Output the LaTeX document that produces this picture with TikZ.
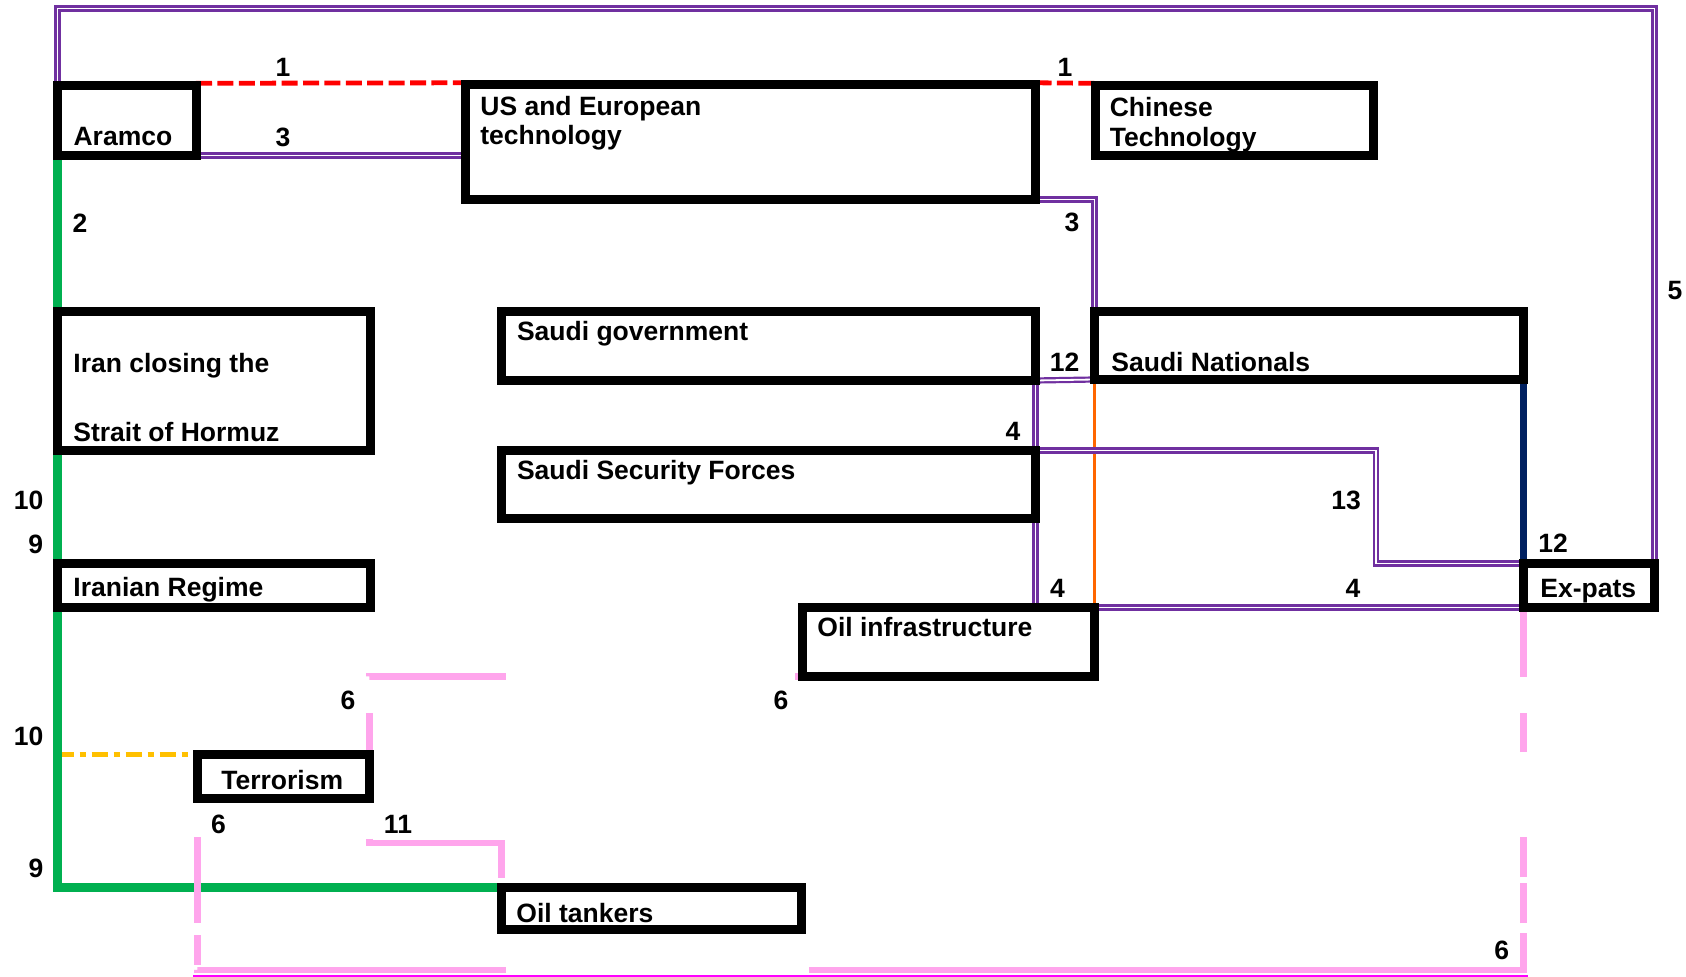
\documentclass[tikz,border=0pt]{standalone}
\usepackage{fontspec}
\setmainfont{Liberation Sans}
\usetikzlibrary{fit,backgrounds,calc}
\definecolor{gpurple}{HTML}{7030A0}
\definecolor{ggreen}{HTML}{00B050}
\definecolor{gnavy}{HTML}{002060}
\definecolor{gorange}{HTML}{FF6600}
\definecolor{gyellow}{HTML}{FFC000}
\definecolor{gred}{HTML}{FF0000}
\definecolor{gpink}{RGB}{255,165,236}
\definecolor{gmagenta}{HTML}{FF00FF}
\begin{document}
\begin{tikzpicture}[x=0.5pt,y=-0.5pt,
  box/.style={draw=black, line width=4.5pt, fill=white, inner sep=0pt, outer sep=0pt},
  txt/.style={anchor=base west, inner sep=0pt, font=\fontsize{13.25pt}{15pt}\selectfont\bfseries},
  num/.style={inner sep=0pt, font=\fontsize{13.25pt}{15pt}\selectfont\bfseries},
  pdouble/.style={draw=gpurple, line width=1.1pt, double=white, double distance=0.9pt},
  greenline/.style={draw=ggreen, line width=4.5pt},
  redline/.style={draw=gred, line width=2.4pt, dash pattern=on 8pt off 2.7pt},
  yellowline/.style={draw=gyellow, line width=2.8pt, dash pattern=on 8pt off 3pt on 3pt off 3pt},
  navyline/.style={draw=gnavy, line width=3.8pt},
  orangeline/.style={draw=gorange, line width=1.6pt},
  pinkline/.style={draw=gpink, line width=3.2pt}
]
\useasboundingbox (0,0) rectangle (1686,977);

% boxes
\node[box, fit={(57.5,85.5) (196,155.5)}] (Aramco) {};
\node[box, fit={(465.5,85) (1035.5,199.5)}] (US) {};
\node[box, fit={(1095,85.5) (1373.5,155.5)}] (CT) {};
\node[box, fit={(57.5,311.5) (370.5,450.5)}] (Iran) {};
\node[box, fit={(501.5,311.5) (1035.5,380.5)}] (SG) {};
\node[box, fit={(1094.5,311.5) (1523.5,379.5)}] (SN) {};
\node[box, fit={(501.5,450.5) (1035.5,518.5)}] (SSF) {};
\node[box, fit={(57.5,563.5) (370.5,607.5)}] (IR) {};
\node[box, fit={(1523.5,563.5) (1654.5,607.5)}] (Ex) {};
\node[box, fit={(802.5,607.5) (1094.5,676.5)}] (OI) {};
\node[box, fit={(197.5,754.5) (369.5,798.5)}] (T) {};
\node[box, fit={(501.5,887.5) (801,929.5)}] (OT) {};

% box texts
\node[txt] (tAramco) at (73.2,146) {Aramco};
\node[txt] (tUSa) at (480,115.8) {US and European};
\node[txt] (tUSb) at (480,144.8) {technology};
\node[txt] (tCTa) at (1109.4,116.5) {Chinese};
\node[txt] (tCTb) at (1109.4,146.5) {Technology};
\node[txt] (tIrana) at (73,372.7) {Iran closing the};
\node[txt] (tIranb) at (73,441.3) {Strait of Hormuz};
\node[txt] (tIR) at (73,597) {Iranian Regime};
\node[txt] (tSG) at (516.6,341) {Saudi government};
\node[txt] (tSSF) at (516.6,479.3) {Saudi Security Forces};
\node[txt] (tSN) at (1111,372) {Saudi Nationals};
\node[txt] (tEx) at (1540,598) {Ex-pats};
\node[txt] (tOI) at (817,637) {Oil infrastructure};
\node[txt] (tT) at (221,790) {Terrorism};
\node[txt] (tOT) at (516,922) {Oil tankers};

% number labels
\node[num] (na) at (283,67) {1};
\node[num] (nb) at (283,137) {3};
\node[num] (nc) at (1065,67) {1};
\node[num] (nd) at (80,223) {2};
\node[num] (ne) at (1072,222) {3};
\node[num] (nf) at (1675,291) {5};
\node[num] (ng) at (1064.7,362) {12};
\node[num] (nh) at (1013,431) {4};
\node[num] (ni) at (1346,500) {13};
\node[num] (nj) at (1553,543) {12};
\node[num] (nk) at (1057.5,588) {4};
\node[num] (nl) at (1353,588) {4};
\node[num] (nm) at (28.6,500.5) {10};
\node[num] (nn) at (35.7,544) {9};
\node[num] (no) at (348,700.5) {6};
\node[num] (np) at (781,700) {6};
\node[num] (nq) at (28.6,736.7) {10};
\node[num] (nr) at (36,868.7) {9};
\node[num] (ns) at (218.6,824.5) {6};
\node[num] (nt) at (398,824.5) {11};
\node[num] (nu) at (1501.7,950.8) {6};

% helper coordinates
\coordinate (ftr) at (1654.5,8.5);
\coordinate (k13) at (1376,563.5);
\coordinate (k11) at (369.5,843);
\coordinate (k6) at (197.5,970);

\begin{pgfonlayer}{background}
\fill[white] (0,0) rectangle (1686,977);
% yellow
\draw[yellowline] (IR.south west |- T.north west) -- (T.north west);
% green
\draw[greenline] (Aramco.south west) -- (Iran.north west);
\draw[greenline] (Iran.south west) -- (IR.north west);
\draw[greenline] (IR.south west) |- (OT.north west);
% red
\draw[redline] ([yshift=1.1pt]Aramco.north east) -- ([yshift=1.1pt]US.north west);
\draw[redline] ([yshift=1.1pt]US.north east) -- ([yshift=1.1pt]CT.north west);
% orange and navy
\draw[orangeline] (SN.south west) -- (OI.north east);
\draw[navyline] (SN.south east) -- (Ex.north west);
% purple double lines
\draw[pdouble] (Aramco.north west) |- (ftr) -- (Ex.north east);
\draw[pdouble] (Aramco.south east) -- (Aramco.south east -| US.west);
\draw[pdouble] (US.south east) -| (SN.north west);
\draw[pdouble] (SG.south east) -- (SN.south west);
\draw[pdouble] (SG.south east) -- (SG.south east |- OI.north);
\draw[pdouble] (SSF.north east) -| (k13) -- (Ex.north west);
\draw[pdouble] (OI.north east) -- (Ex.south west);
% pink patterned lines
\draw[pinkline, dash pattern=on 18.5pt off 18.25pt on 68pt off 144.75pt on 3.75pt off 2.25pt, dash phase=253.25pt] (T.north east) |- (OI.south west);
\draw[pinkline, dash pattern=on 85.75pt off 24.75pt, dash phase=90.5pt] (T.south east) -- (k11) -| (OT.north west);
\draw[pinkline, dash pattern=on 43pt off 6pt on 15pt off 2.5pt on 154.25pt off 151.5pt on 375.75pt off 5pt on 20pt off 3pt on 20pt off 42.5pt on 19.5pt off 18pt on 34.75pt off 19.25pt, dash phase=910.75pt] (T.south west) -- (k6) -| (Ex.south west);
\draw[gmagenta, line width=0.75pt] ($(k6)+(-4.5,6)$) -- ($(Ex.south west |- k6)+(4.5,6)$);
\end{pgfonlayer}
\end{tikzpicture}
\end{document}
